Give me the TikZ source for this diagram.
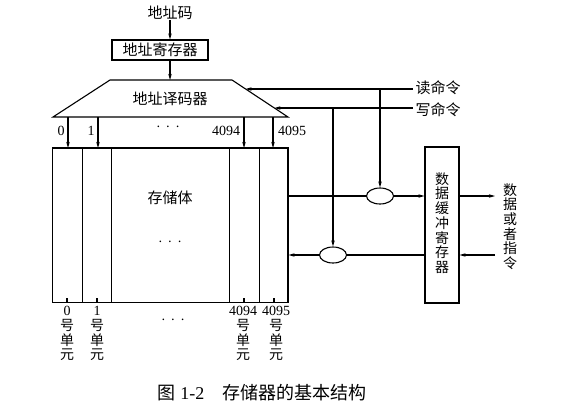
\documentclass[tikz,border=0pt]{standalone}
\usepackage{fontspec}
\setmainfont{Liberation Serif}
\newfontfamily\cjk{Noto Sans CJK SC}
\usetikzlibrary{arrows.meta,shapes.geometric}
\begin{document}
\begin{tikzpicture}[x=1pt,y=-1pt,line width=1.1pt,
  arr/.style={-{Stealth[length=6pt,width=3.4pt]}},
  lbl/.style={font=\cjk\fontsize{15}{15}\selectfont,inner sep=0pt},
  num/.style={font=\fontsize{14}{14}\selectfont,inner sep=0pt},
  regbox/.style={draw,inner sep=0pt,font=\cjk\fontsize{15}{15}\selectfont},
  gate/.style={draw,ellipse,minimum width=27pt,minimum height=16pt,inner sep=0pt},
  vtext/.style={font=\cjk\fontsize{14}{14.7}\selectfont,align=center,inner sep=0pt},
  unitlbl/.style={font=\fontsize{14}{14.6}\selectfont,align=center,inner sep=0pt,anchor=north},
  dots/.style={font=\fontsize{14}{14}\selectfont,inner sep=0pt}]
\useasboundingbox (0,0) rectangle (577,418);

% address code and register
\node[lbl] (code) at (170,13) {地址码};
\node[regbox,minimum width=96pt,minimum height=20pt] (areg) at (160,50) {地址寄存器};
\coordinate (a1) at (170,60);
\coordinate (a2) at (170,80);
\draw[arr] (code.south) -- (code.south |- areg.north);
\draw[arr] (a1) -- (a2);

% decoder
\coordinate (dTL) at (110,80);
\coordinate (dTR) at (232,80);
\coordinate (dBR) at (288,117);
\coordinate (dBL) at (53,117);
\draw (dTL) -- (dTR) -- (dBR) -- (dBL) -- cycle;
\node[lbl] (dec) at (170,99) {地址译码器};

% memory body
\node[draw,minimum width=235.3pt,minimum height=154.7pt,inner sep=0pt] (mem) at (170.35,225.35) {};
\foreach \x in {82.7,111.7,229.3,259.3}
  \draw (\x,148) -- (\x,302.7);
\node[lbl] (body) at (170,198) {存储体};
\node[dots] (bdots) at (170,244) {·\hspace{5pt}·\hspace{5pt}·};

% decoder outputs
\foreach \x/\n in {68/o0,98/o1,244/o4094,273/o4095}{
  \coordinate (\n t) at (\x,117);
  \coordinate (\n b) at (\x,148);
  \draw[arr] (\n t) -- (\n b);
}
\node[num] (l0) at (61,131) {0};
\node[num] (l1) at (91,131) {1};
\node[dots] (ldots) at (168,129) {·\hspace{5pt}·\hspace{5pt}·};
\node[num] (l4094) at (226,131) {4094};
\node[num] (l4095) at (292,131) {4095};

% bottom ticks and unit labels
\foreach \x in {67,97,244,274}
  \draw (\x,298) -- (\x,302.7);
\node[unitlbl] (u0) at (67,306) {0\\{\cjk 号}\\{\cjk 单}\\{\cjk 元}};
\node[unitlbl] (u1) at (97,306) {1\\{\cjk 号}\\{\cjk 单}\\{\cjk 元}};
\node[unitlbl] (u4094) at (243,306) {4094\\{\cjk 号}\\{\cjk 单}\\{\cjk 元}};
\node[unitlbl] (u4095) at (276,306) {4095\\{\cjk 号}\\{\cjk 单}\\{\cjk 元}};
\node[dots] (udots) at (173,322) {·\hspace{5pt}·\hspace{5pt}·};

% buffer register
\node[draw,minimum width=34pt,minimum height=156pt,inner sep=0pt] (buf) at (442,225) {};
\node[vtext] (buftext) at (442,223) {数\\据\\缓\\冲\\寄\\存\\器};
\node[vtext] (ext) at (510,226.5) {数\\据\\或\\者\\指\\令};

% gates
\node[gate] (g1) at (380,196) {};
\node[gate] (g2) at (333,255) {};

% read / write commands
\coordinate (rd) at (413,89);
\coordinate (rin) at (245.6,89);
\coordinate (wr) at (413,108);
\coordinate (win) at (274.4,108);
\node[lbl,anchor=west] (rdl) at (415,88) {读命令};
\node[lbl,anchor=west] (wrl) at (415,110) {写命令};
\draw[arr] (rd) -- (rin);
\draw[arr] (wr) -- (win);
\draw[arr] (g1 |- rd) -- (g1.north);
\draw[arr] (g2 |- wr) -- (g2.north);

% data paths
\draw (mem.east |- g1) -- (g1.west);
\draw[arr] (g1.east) -- (buf.west |- g1);
\draw (buf.west |- g2) -- (g2.east);
\draw[arr] (g2.west) -- (mem.east |- g2);
\coordinate (out1) at (495,196);
\coordinate (in1) at (495,255);
\draw[arr] (buf.east |- g1) -- (out1);
\draw[arr] (in1) -- (buf.east |- g2);

% caption
\node[inner sep=0pt,font=\fontsize{18}{18}\selectfont] (cap) at (262,393) {{\cjk 图} 1-2\hspace{18pt}{\cjk 存储器的基本结构}};
\end{tikzpicture}
\end{document}
